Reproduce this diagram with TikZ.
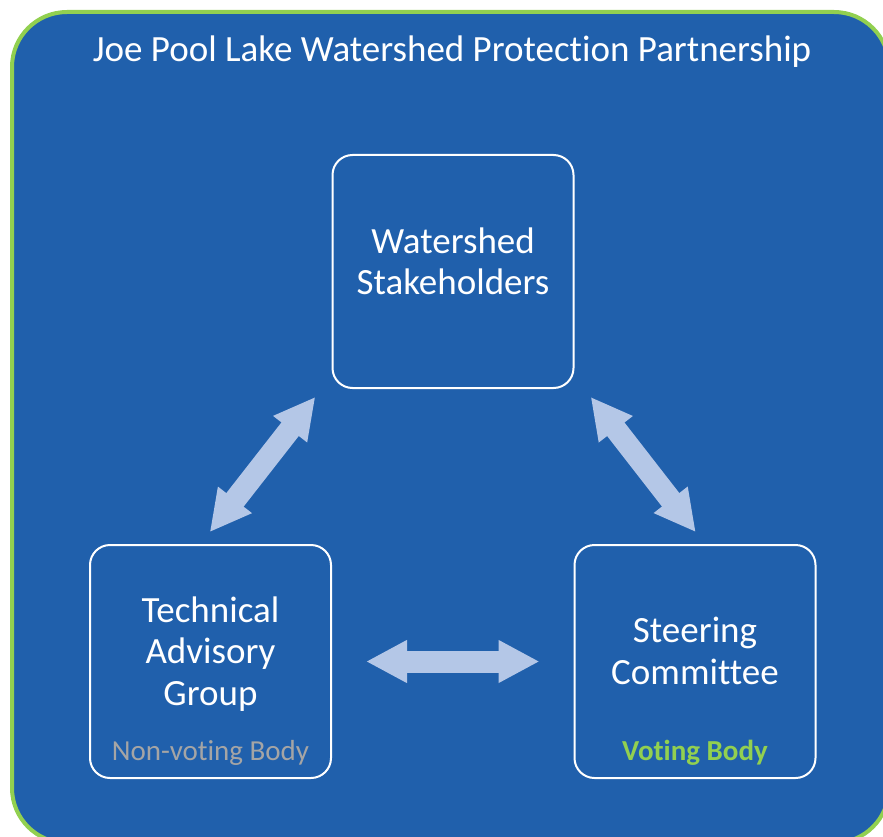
\documentclass[tikz,border=0pt]{standalone}
\usepackage{fontspec}
\setmainfont{Carlito}[Ligatures=CommonOff]
\usetikzlibrary{arrows.meta}
\definecolor{fondbleu}{RGB}{32,96,172}
\definecolor{vert}{RGB}{146,208,80}
\definecolor{flechebleu}{RGB}{180,199,231}
\definecolor{gris}{RGB}{165,165,165}

\begin{document}
\begin{tikzpicture}[x=1pt,y=-1pt]
	\tikzstyle{cadre}=[draw=vert,line width=4pt,fill=fondbleu,rounded corners=55pt]
	\tikzstyle{titre}=[anchor=base,text=white,font=\fontsize{37}{44}\selectfont]
	\tikzstyle{boite}=[rectangle,draw=white,line width=2pt,rounded corners=20pt,minimum width=241pt,minimum height=233pt,align=center,text depth=21pt,text=white,font=\fontsize{37}{41.5}\selectfont]
	\tikzstyle{vote}=[anchor=base,font=\fontsize{29}{34}\selectfont]
	\tikzstyle{lien}=[flechebleu,line width=22pt,{Triangle[width=40pt,length=41pt]}-{Triangle[width=40pt,length=41pt]}]
	\useasboundingbox (0,0) rectangle (883,837);
	% fond du partenariat
	\draw[cadre] (12,12) rectangle (889,843);
	\node[titre] (titre) at (452,62) {Joe Pool Lake Watershed Protection Partnership};
	% les trois groupes
	\node[boite] (stake) at (453,271.5) {Watershed\\Stakeholders};
	\node[boite] (tag) at (210.5,661.5) {Technical\\Advisory\\Group};
	\node[boite] (steer) at (695,661.5) {Steering\\Committee};
	\node[vote,text=gris] (nonvote) at ([yshift=19pt]tag.south) {Non-voting Body};
	\node[vote,text=vert] (vote) at ([yshift=19pt]steer.south) {\bfseries Voting Body};
	% fleches doubles
	\draw[lien,shorten <=15pt,shorten >=10pt] ([xshift=-10pt]tag.north) -- ([xshift=-10pt]stake.south west);
	\draw[lien,shorten <=10pt,shorten >=15pt] ([xshift=10pt]stake.south east) -- ([xshift=10pt]steer.north);
	\draw[lien,shorten <=34pt,shorten >=34pt] (tag.east) -- (steer.west);
\end{tikzpicture}
\end{document}
